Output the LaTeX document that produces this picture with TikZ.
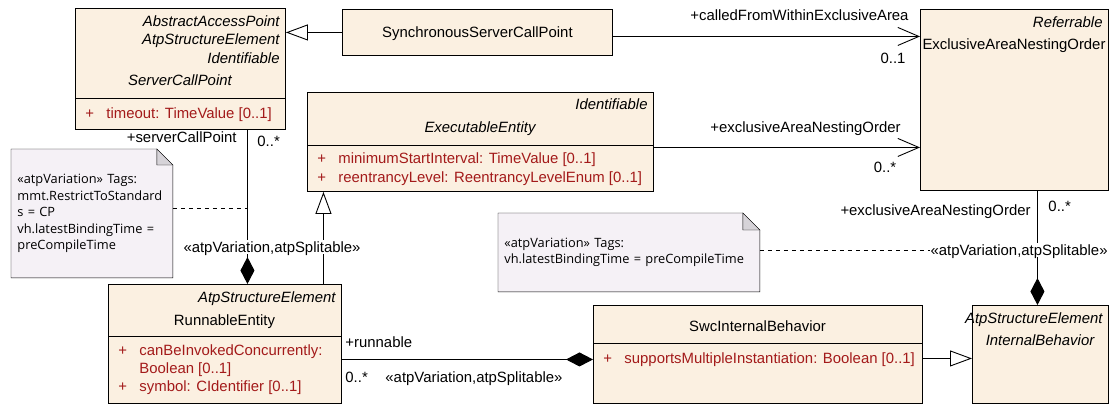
\documentclass[tikz,border=0pt]{standalone}
\usepackage{fontspec}
\setmainfont{Liberation Sans}
\newfontfamily\notefont{Open Sans}
\usepackage{xcolor}
\usetikzlibrary{arrows.meta, positioning, backgrounds}

\definecolor{clsfill}{HTML}{FBF0E1}
\definecolor{notefill}{HTML}{F5F1F6}
\definecolor{foldfill}{HTML}{D6D3D8}
\definecolor{attrred}{HTML}{A31A1A}

\newcommand\umlsize{\fontsize{14.9}{17}\selectfont}
\newcommand\attrplus{\makebox[21pt][l]{+}}
\newcommand\dogear[2]{%
  \draw[fill=notefill] (#1.north west) -- ([xshift=-#2]#1.north east)
    -- ([yshift=-#2]#1.north east) -- (#1.south east) -- (#1.south west) -- cycle;
  \draw[fill=foldfill] ([xshift=-#2]#1.north east) -- ([xshift=-#2,yshift=-#2]#1.north east)
    -- ([yshift=-#2]#1.north east) -- cycle;}

\tikzset{
  cls/.style={draw, fill=clsfill, anchor=north west, inner sep=0pt, font=\umlsize, text height=12pt, text depth=2pt},
  lbl/.style={inner sep=0pt, font=\umlsize, text height=12pt, text depth=2pt},
  stereo/.style={lbl, anchor=east, font=\umlsize\itshape},
  attr/.style={lbl, anchor=west, text=attrred},
  note/.style={anchor=north west, inner xsep=6pt, align=left, font=\notefont\fontsize{12.8}{16.5}\selectfont},
  tag/.style={lbl, fill=white, inner xsep=1pt},
  gen/.style={-{Triangle[length=22pt, width=16pt, fill=white]}},
  nav/.style={-{Straight Barb[length=21pt, width=18pt]}},
  comp/.style={-{Diamond[length=27pt, width=14pt]}},
  tagline/.style={dash pattern=on 4pt off 4pt}
}

\begin{document}
\begin{tikzpicture}[x=1pt, y=-1pt, line width=0.9pt]
\useasboundingbox (0,0) rectangle (1110,405);

\node[cls, minimum width=210pt, minimum height=121pt] (scp) at (75,8) {};
\draw ([yshift=-90pt]scp.north west) -- ([yshift=-90pt]scp.north east);
\node[stereo] (scp-st1) at (280,21) {AbstractAccessPoint};
\node[stereo] (scp-st2) at (280,39) {AtpStructureElement};
\node[stereo] (scp-st3) at (280,58) {Identifiable};
\node[lbl, font=\umlsize\itshape] (scp-name) at (180,80) {ServerCallPoint};
\node[attr] (scp-a1) at (85,113) {\attrplus timeout: TimeValue [0..1]};

\node[cls, minimum width=270pt, minimum height=46pt] (sscp) at (342,9) {SynchronousServerCallPoint};

\node[cls, minimum width=188pt, minimum height=181pt] (exc) at (920,9) {};
\node[stereo] (exc-st) at (1103,22) {Referrable};
\node[lbl] (exc-name) at (1014,44) {ExclusiveAreaNestingOrder};

\node[cls, minimum width=346pt, minimum height=99pt] (exe) at (307,92) {};
\draw ([yshift=-53pt]exe.north west) -- ([yshift=-53pt]exe.north east);
\node[stereo] (exe-st) at (648,104) {Identifiable};
\node[lbl, font=\umlsize\itshape] (exe-name) at (480,127) {ExecutableEntity};
\node[attr] (exe-a1) at (317,158) {\attrplus minimumStartInterval: TimeValue [0..1]};
\node[attr] (exe-a2) at (317,177) {\attrplus reentrancyLevel: ReentrancyLevelEnum [0..1]};

\node[cls, minimum width=233pt, minimum height=119pt] (run) at (108,284) {};
\draw ([yshift=-52pt]run.north west) -- ([yshift=-52pt]run.north east);
\node[stereo] (run-st) at (336,297) {AtpStructureElement};
\node[lbl] (run-name) at (224.5,320) {RunnableEntity};
\node[attr] (run-a1) at (118,350) {\attrplus canBeInvokedConcurrently:};
\node[attr] (run-a1b) at (139,368) {Boolean [0..1]};
\node[attr] (run-a2) at (118,386) {\attrplus symbol: CIdentifier [0..1]};

\node[cls, minimum width=329pt, minimum height=98pt] (swc) at (593,305) {};
\draw ([yshift=-38pt]swc.north west) -- ([yshift=-38pt]swc.north east);
\node[lbl] (swc-name) at (757.5,326) {SwcInternalBehavior};
\node[attr] (swc-a1) at (603,358) {\attrplus supportsMultipleInstantiation: Boolean [0..1]};

\node[cls, minimum width=136pt, minimum height=98pt] (ib) at (972,305) {};
\node[stereo] (ib-st) at (1103,318) {AtpStructureElement};
\node[lbl, font=\umlsize\itshape] (ib-name) at (1040,340) {InternalBehavior};

\node[note, minimum width=161pt, minimum height=128pt, text width=149pt] (n1) at (11,149)
  {«atpVariation» Tags:\\mmt.RestrictToStandard\\s = CP\\vh.latestBindingTime =\\preCompileTime};
\node[note, minimum width=261pt, minimum height=78pt, text width=249pt, font=\notefont\fontsize{12.8}{16}\selectfont] (n2) at (498,213)
  {«atpVariation» Tags:\\vh.latestBindingTime = preCompileTime};
\begin{scope}[on background layer]
  \dogear{n1}{16pt}
  \dogear{n2}{17pt}
\end{scope}

\coordinate (scp-run) at ([xshift=67pt]scp.south);
\coordinate (exc-ib) at ([xshift=23pt]exc.south);

\draw[gen] (sscp.west) -- (sscp.west -| scp.east);
\draw[nav] ([yshift=-4pt]sscp.east) -- ([yshift=-4pt]sscp.east -| exc.west);
\node[lbl, anchor=east] (cfwea-role) at (909,15) {+calledFromWithinExclusiveArea};
\node[lbl] (cfwea-mult) at (893,58) {0..1};

\draw[nav] ([yshift=-5.5pt]exe.east) -- ([yshift=-5.5pt]exe.east -| exc.west);
\node[lbl, anchor=east] (eano-role) at (901,127) {+exclusiveAreaNestingOrder};
\node[lbl] (eano-mult) at (885,167) {0..*};

\draw[comp] (scp-run) -- (scp-run |- run.north);
\node[lbl, anchor=east] (scp-role) at (237,137) {+serverCallPoint};
\node[lbl, anchor=west] (scp-mult) at (257,141) {0..*};
\draw[gen] ([xshift=98.5pt]run.north) -- ([xshift=98.5pt]run.north |- exe.south);
\draw[tagline] ([yshift=5pt]n1.east) -- ([yshift=5pt]n1.east -| scp-run);
\node[tag] (scp-tag) at (272,247) {«atpVariation,atpSplitable»};

\draw[comp] ([yshift=-15.5pt]run.east) -- ([yshift=-15.5pt]run.east -| swc.west);
\node[lbl, anchor=west] (run-role) at (345,342) {+runnable};
\node[lbl, anchor=west] (run-mult) at (345,377) {0..*};
\node[lbl, anchor=west] (run-tag) at (385,377) {«atpVariation,atpSplitable»};

\draw[gen] ([yshift=-4pt]swc.east) -- ([yshift=-4pt]swc.east -| ib.west);

\draw[comp] (exc-ib) -- (exc-ib |- ib.north);
\node[lbl, anchor=east] (ib-role) at (1031,210) {+exclusiveAreaNestingOrder};
\node[lbl, anchor=west] (ib-mult) at (1048,206) {0..*};
\draw[tagline] ([yshift=2pt]n2.east) -- ([yshift=2pt]n2.east -| exc-ib);
\node[tag, anchor=east] (ib-tag) at (1109,250) {«atpVariation,atpSplitable»};
\end{tikzpicture}
\end{document}
